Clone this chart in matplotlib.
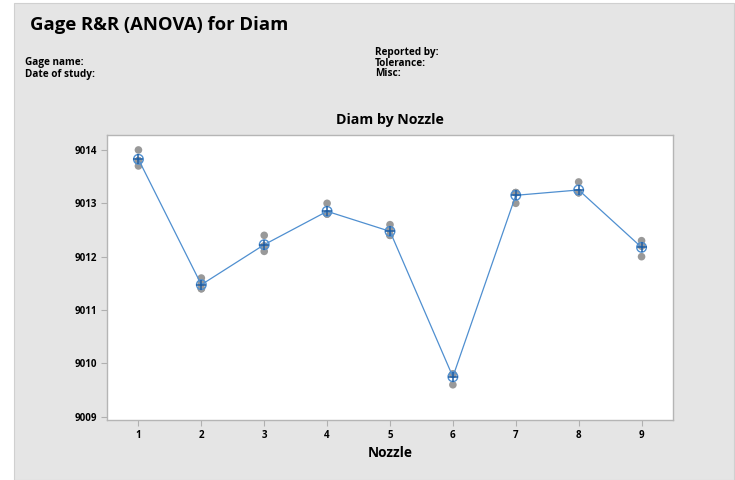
import matplotlib
matplotlib.use("Agg")
import matplotlib.pyplot as plt
from matplotlib.patches import Rectangle

plt.rcParams['font.family'] = ['Open Sans', 'DejaVu Sans']

nozzles = [1, 2, 3, 4, 5, 6, 7, 8, 9]
measurements = [
    [9014.0, 9013.8, 9013.8, 9013.7],
    [9011.6, 9011.4, 9011.4, 9011.5],
    [9012.4, 9012.1, 9012.2, 9012.2],
    [9013.0, 9012.8, 9012.8, 9012.8],
    [9012.6, 9012.4, 9012.5, 9012.4],
    [9009.8, 9009.8, 9009.8, 9009.6],
    [9013.2, 9013.2, 9013.2, 9013.0],
    [9013.4, 9013.2, 9013.2, 9013.2],
    [9012.3, 9012.2, 9012.2, 9012.0],
]
yticks = [9009, 9010, 9011, 9012, 9013, 9014]

W, H = 735, 480
fig = plt.figure(figsize=(W / 100, H / 100), dpi=100)
fig.patch.set_facecolor('white')
bg = '#e5e5e5'
rect = Rectangle((14 / W, 0), (734 - 14) / W, (H - 3) / H,
                 transform=fig.transFigure, facecolor=bg,
                 edgecolor='#d0d0d0', linewidth=0.8, zorder=-10)
fig.patches.append(rect)

ax = fig.add_axes([107 / W, 1 - 420 / H, (673 - 107) / W, (420 - 135) / H])
ax.set_zorder(5)
ax.set_facecolor('white')

means = [sum(m) / len(m) for m in measurements]
for x, vals in zip(nozzles, measurements):
    ax.scatter([x] * len(vals), vals, s=30, color='#999999', edgecolors='none', zorder=2)
ax.plot(nozzles, means, color='#4f8fd0', linewidth=0.9, zorder=3)
ax.scatter(nozzles, means, s=48, facecolors='none', edgecolors='#4f8fd0', linewidths=1.0, zorder=4)
ax.scatter(nozzles, means, s=55, marker='+', color='#1f5fa6', linewidths=1.1, zorder=5)

ax.set_xlim(0.5, 9.5)
ax.set_ylim(9008.94, 9014.28)
ax.set_xticks(nozzles)
ax.set_xticklabels([str(n) for n in nozzles])
ax.set_yticks(yticks)
ax.set_yticklabels([str(v) for v in yticks])
for lab in ax.get_xticklabels() + ax.get_yticklabels():
    lab.set_fontweight('bold')
    lab.set_fontsize(7)
ax.tick_params(axis='both', direction='out', length=4, width=0.8, color='#b0b0b0', pad=3)
for sp in ax.spines.values():
    sp.set_color('#b5b5b5')
    sp.set_linewidth(1.0)

ax.set_xlabel('Nozzle', fontsize=9.8, fontweight='bold', labelpad=4)
ax.set_title('Diam by Nozzle', fontsize=10.2, fontweight='bold', pad=8)

fig.text(30 / W, 1 - 25 / H, 'Gage R&R (ANOVA) for Diam', fontsize=13.3,
         fontweight='bold', va='center', ha='left')
hs = 7.2
fig.text(25 / W, 1 - 63 / H, 'Gage name:', fontsize=hs, fontweight='bold', va='center')
fig.text(25 / W, 1 - 74 / H, 'Date of study:', fontsize=hs, fontweight='bold', va='center')
fig.text(375 / W, 1 - 52 / H, 'Reported by:', fontsize=hs, fontweight='bold', va='center')
fig.text(375 / W, 1 - 63 / H, 'Tolerance:', fontsize=hs, fontweight='bold', va='center')
fig.text(375 / W, 1 - 74 / H, 'Misc:', fontsize=hs, fontweight='bold', va='center')

fig.savefig('out.png', dpi=100, facecolor=fig.get_facecolor())
